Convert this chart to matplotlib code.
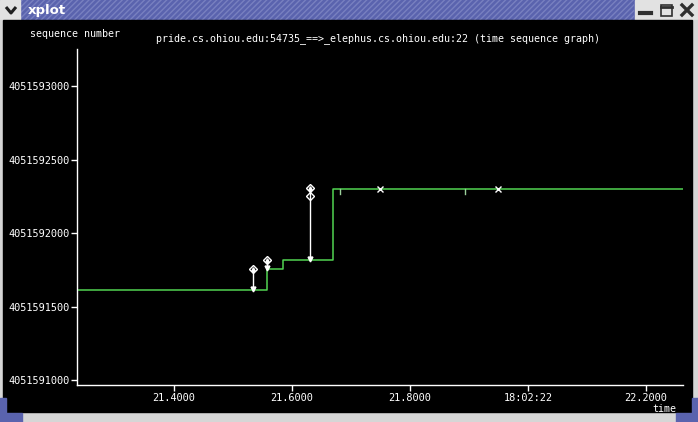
import matplotlib
matplotlib.use("Agg")
import matplotlib.pyplot as plt
from matplotlib.patches import Rectangle

# data
step_t = [21.2356, 21.5578, 21.5842, 21.6690, 22.2630]
step_seq = [4051591610, 4051591752, 4051591814, 4051592298, 4051592298]

arrow_t = [21.5334, 21.5580, 21.6300]
arrow_lo = [4051591610, 4051591752, 4051591814]
arrow_hi = [4051591758, 4051591818, 4051592304]
extra_diamond_t = [21.6300]
extra_diamond_seq = [4051592252]

x_mark_t = [21.7487, 21.9487]
x_mark_seq = [4051592298, 4051592298]

small_tick_t = [21.681, 21.893]
small_tick_seq = [4051592298, 4051592298]

xtick_vals = [21.4, 21.6, 21.8, 22.0, 22.2]
xtick_labels = ['21.4000', '21.6000', '21.8000', '18:02:22', '22.2000']
ytick_vals = [4051591000, 4051591500, 4051592000, 4051592500, 4051593000]
ytick_labels = [str(v) for v in ytick_vals]

title = 'pride.cs.ohiou.edu:54735_==>_elephus.cs.ohiou.edu:22 (time sequence graph)'

W, H = 698, 422
fig = plt.figure(figsize=(W / 100, H / 100), dpi=100, facecolor='black')

# window frame drawn in pixel coords
bg = fig.add_axes([0, 0, 1, 1])
bg.set_xlim(0, W)
bg.set_ylim(H, 0)
bg.axis('off')
blue = '#5a63ae'
gray = '#d6d6d6'
bg.add_patch(Rectangle((0, 0), W, 20, color=blue))
bg.add_patch(Rectangle((20, 0), 614, 20, facecolor='none', edgecolor='#7880c0',
                       hatch='//////', lw=0))
bg.add_patch(Rectangle((0, 0), 20, 20, color='#e2e2e2'))
bg.plot([6, 11, 16], [7, 13, 7], color='#202020', lw=2.2, solid_capstyle='butt')
bg.add_patch(Rectangle((635, 0), 63, 20, color='#e2e2e2'))
bg.plot([640, 651], [13, 13], color='#303030', lw=3)
bg.add_patch(Rectangle((661, 5), 11, 11, facecolor='none', edgecolor='#303030', lw=1.2))
bg.plot([661, 672], [7, 7], color='#303030', lw=2)
bg.plot([682, 692], [5, 15], color='#303030', lw=2.4)
bg.plot([682, 692], [15, 5], color='#303030', lw=2.4)
bg.add_patch(Rectangle((0, 20), 3, 392, color=gray))
bg.add_patch(Rectangle((692, 20), 6, 392, color=gray))
bg.add_patch(Rectangle((0, 412), W, 10, color=gray))
bg.add_patch(Rectangle((3, 20), 689, 392, color='black'))
bg.add_patch(Rectangle((0, 398), 6, 24, color=blue))
bg.add_patch(Rectangle((0, 413), 22, 9, color=blue))
bg.add_patch(Rectangle((692, 398), 6, 24, color=blue))
bg.add_patch(Rectangle((676, 413), 22, 9, color=blue))
bg.text(28, 10.5, 'xplot', color='white', fontsize=9.5, fontweight='bold',
        va='center', ha='left', family='DejaVu Sans')

mono = 'DejaVu Sans Mono'
bg.text(75, 34, 'sequence number', color='white', fontsize=7.2, family=mono,
        ha='center', va='center')
bg.text(378, 39, title, color='white', fontsize=7.2, family=mono,
        ha='center', va='center')
bg.text(676, 409, 'time', color='white', fontsize=7.2, family=mono,
        ha='right', va='center')

# plot area
ax = fig.add_axes([77 / W, (H - 385) / H, (683 - 77) / W, (385 - 49) / H])
ax.set_facecolor('none')
ax.set_xlim(21.2356, 22.263)
ax.set_ylim(4051590966, 4051593252)
for s in ['top', 'right']:
    ax.spines[s].set_visible(False)
for s in ['left', 'bottom']:
    ax.spines[s].set_color('white')
    ax.spines[s].set_linewidth(1.0)

ax.set_xticks(xtick_vals)
ax.set_xticklabels(xtick_labels)
ax.set_yticks(ytick_vals)
ax.set_yticklabels(ytick_labels)
ax.tick_params(colors='white', length=4, width=1, pad=1.5, labelsize=7.4)
for lab in ax.get_xticklabels() + ax.get_yticklabels():
    lab.set_family(mono)

green = '#52d452'
ax.step(step_t, step_seq, where='post', color=green, lw=1.1)

for t, lo, hi in zip(arrow_t, arrow_lo, arrow_hi):
    ax.plot([t, t], [lo, hi], color='white', lw=1.0)
    ax.plot(t, lo + 8, marker='v', color='white', ms=3.5)
    ax.plot(t, hi, marker='D', mfc='none', mec='white', ms=4, mew=1)
    ax.plot(t, hi, marker='^', color='white', ms=2.5)
ax.plot(extra_diamond_t, extra_diamond_seq, 'D', mfc='none', mec='white', ms=4, mew=1)

ax.plot(x_mark_t, x_mark_seq, 'x', color='white', ms=4, mew=1)
for t, s in zip(small_tick_t, small_tick_seq):
    ax.plot([t, t], [s, s - 30], color='#9ad09a', lw=1)

fig.savefig('out.png', dpi=100, facecolor='black')
